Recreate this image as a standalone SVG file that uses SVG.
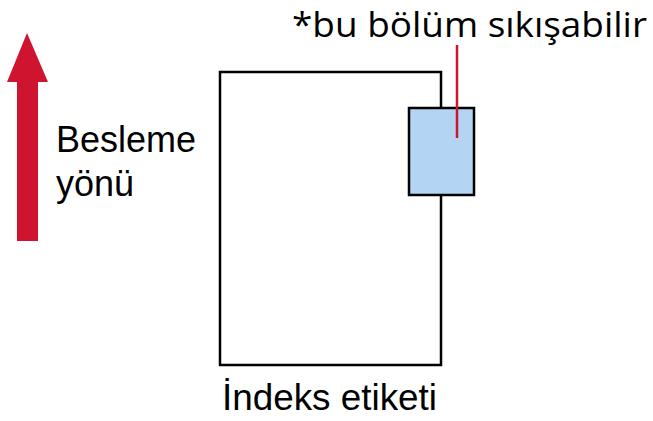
<svg xmlns="http://www.w3.org/2000/svg" width="653" height="421" viewBox="0 0 653 421">
<style>
.lbl{font-family:"Liberation Sans",Arial,sans-serif;font-size:36px;fill:#000}
.note{font-family:"Open Sans","Noto Sans",sans-serif;font-size:35px;fill:#000}
.box{fill:#fff;stroke:#000;stroke-width:2.5}
.sec{fill:#b3d5f3;stroke:#000;stroke-width:2.5}
</style>
<rect width="653" height="421" fill="#fff"/>
<g id="feed-arrow">
<polygon points="27,33 48,82 38,82 38,241 17,241 17,82 7,82" fill="#cf1430"/>
<text class="lbl" x="56" y="152">Besleme</text>
<text class="lbl" x="56" y="196">yönü</text>
</g>
<g id="index-label">
<rect class="box" x="220" y="72" width="221" height="293"/>
<text class="lbl" x="222" y="410" textLength="215" lengthAdjust="spacingAndGlyphs">İndeks etiketi</text>
</g>
<g id="compress-section">
<rect class="sec" x="409" y="108" width="65" height="87"/>
</g>
<g id="connectors">
<line x1="457" y1="45" x2="457" y2="138" stroke="#cf1430" stroke-width="2.5"/>
</g>
<g id="note">
<text class="note" x="292" y="37" textLength="355" lengthAdjust="spacingAndGlyphs">*bu bölüm sıkışabilir</text>
</g>
</svg>
